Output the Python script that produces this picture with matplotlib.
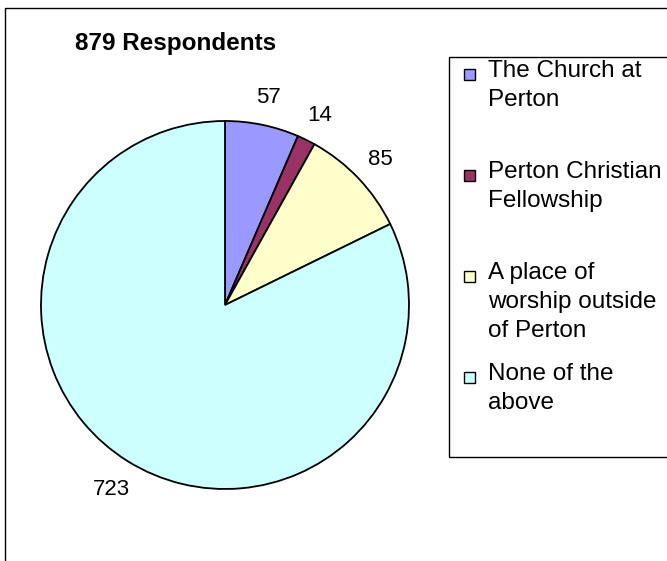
import matplotlib
matplotlib.use('Agg')
import matplotlib.pyplot as plt
from matplotlib.patches import Rectangle

plt.rcParams['font.family'] = ['Liberation Sans', 'DejaVu Sans']

title = '879 Respondents'
categories = ['The Church at\nPerton', 'Perton Christian\nFellowship',
              'A place of\nworship outside\nof Perton', 'None of the\nabove']
counts = [57, 14, 85, 723]
colors = ['#9999FF', '#993366', '#FFFFCC', '#CCFFFF']

W, H = 667, 561
fig = plt.figure(figsize=(W / 100, H / 100), dpi=100)

# pie centre (225, 305) px, radius 184 px
cx, cy, r = 225, 305, 184
ax = fig.add_axes([(cx - r) / W, (H - cy - r) / H, 2 * r / W, 2 * r / H])
wedges, texts = ax.pie(counts, labels=[str(c) for c in counts], colors=colors,
                       startangle=90, counterclock=False, labeldistance=1.165,
                       wedgeprops=dict(edgecolor='black', linewidth=1.3),
                       textprops=dict(fontsize=16, color='black'))
for t in texts:
    t.set_ha('center')
    t.set_va('center_baseline')
ax.set_xlim(-1, 1)
ax.set_ylim(-1, 1)
ax.set_aspect('equal')

# outer chart border (clipped on right/bottom like the original)
fig.patches.append(Rectangle((5 / W, -0.05), 1.1, 1 - 8 / H + 0.05,
                             transform=fig.transFigure, fill=False,
                             edgecolor='black', linewidth=1.0))

fig.text(75 / W, 1 - 50 / H, title, fontsize=17.5, fontweight='bold',
         ha='left', va='baseline')

# legend box
fig.patches.append(Rectangle((449 / W, 1 - 457 / H), 1.0, 400 / H,
                             transform=fig.transFigure, fill=False,
                             edgecolor='black', linewidth=1.0))
for i, (lab, col) in enumerate(zip(categories, colors)):
    top = 60 + i * 101
    fig.patches.append(Rectangle((464 / W, 1 - (top + 20) / H), 11 / W, 11 / H,
                                 transform=fig.transFigure, facecolor=col,
                                 edgecolor='black', linewidth=1.0))
    fig.text(488 / W, 1 - top / H, lab, fontsize=17.5, ha='left',
             va='top', linespacing=1.4)

fig.savefig('out.png', dpi=100)
